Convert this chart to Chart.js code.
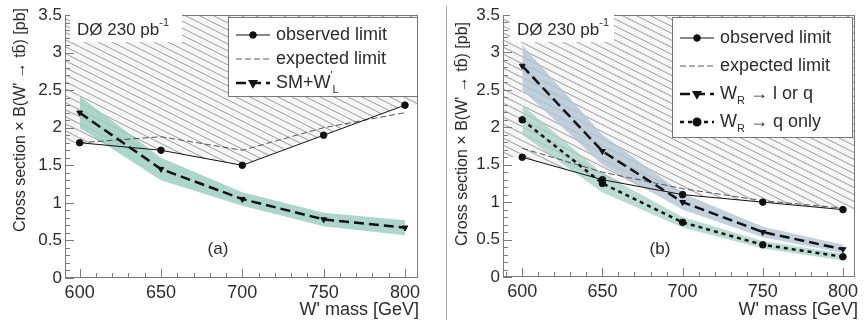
<!DOCTYPE html>
<html>
<head>
<meta charset="utf-8">
<script src="https://cdn.jsdelivr.net/npm/chart.js@4.4.1/dist/chart.umd.min.js"></script>
<style>
  body { margin: 0; background: #fff; width: 865px; height: 320px; overflow: hidden; position: relative; }
  canvas { position: absolute; top: 0; }
  #chartA { left: 0; }
  #chartB { left: 437px; }
  #sep { position: absolute; left: 446px; top: 6px; width: 1px; height: 314px; background: #a8a8a8; }
</style>
</head>
<body>
<canvas id="chartA" width="432" height="320"></canvas>
<canvas id="chartB" width="428" height="320"></canvas>
<div id="sep"></div>
<script>
// ---- data ----
const massPoints = [600, 650, 700, 750, 800];
const xTicks = [600, 650, 700, 750, 800];
const yTicks = [0, 0.5, 1, 1.5, 2, 2.5, 3, 3.5];

// panel (a): SM + W'_L
const observedA = [1.8, 1.7, 1.5, 1.9, 2.3];
const expectedA = [1.8, 1.88, 1.7, 2.0, 2.2];
const smwA      = [2.2, 1.45, 1.05, 0.78, 0.67];
const smwLowA   = [2.0, 1.3, 0.96, 0.69, 0.57];
const smwHighA  = [2.42, 1.6, 1.14, 0.87, 0.77];

// panel (b): W'_R
const observedB = [1.6, 1.3, 1.1, 1.0, 0.9];
const expectedB = [1.72, 1.4, 1.18, 1.02, 0.92];
const lqB       = [2.82, 1.68, 1.0, 0.6, 0.37];
const lqLowB    = [2.5, 1.5, 0.9, 0.53, 0.32];
const lqHighB   = [3.1, 1.9, 1.12, 0.67, 0.43];
const qB        = [2.1, 1.25, 0.73, 0.43, 0.27];
const qLowB     = [1.9, 1.13, 0.66, 0.38, 0.22];
const qHighB    = [2.3, 1.38, 0.8, 0.48, 0.31];

const TEXT = '#2b2b2b';
const FONT = '"Liberation Sans", Arial, sans-serif';

const pts = ys => massPoints.map((x, i) => ({ x, y: ys[i] }));

function hatchPattern() {
  const w = 14, h = 7;
  const c = document.createElement('canvas');
  c.width = w; c.height = h;
  const g = c.getContext('2d');
  g.fillStyle = '#f6f6f6'; g.fillRect(0, 0, w, h);
  g.strokeStyle = '#9a9a9a'; g.lineWidth = 1;
  g.beginPath();
  for (const dx of [-w, 0, w]) for (const dy of [-h, 0, h]) {
    g.moveTo(dx, dy); g.lineTo(dx + w, dy + h);
  }
  g.stroke();
  return g.createPattern(c, 'repeat');
}
const hatch = hatchPattern();

// text with sub/superscripts: parts = [{t, sub, sup}]
function richText(ctx, parts, x, y, size) {
  ctx.textBaseline = 'middle';
  ctx.textAlign = 'left';
  let cx = x;
  for (const p of parts) {
    const small = p.sub || p.sup;
    ctx.font = (small ? Math.round(size * 0.62) : size) + 'px ' + FONT;
    const dy = p.sub ? size * 0.38 : p.sup ? -size * 0.4 : 0;
    ctx.fillText(p.t, cx, y + dy);
    cx += ctx.measureText(p.t).width;
  }
  return cx;
}

const lineStyles = {
  observed: { color: '#111', width: 1, dash: [], marker: 'circle', rot: 0 },
  expected: { color: '#555', width: 1, dash: [6, 3], marker: null },
  thickDash: { color: '#111', width: 2.5, dash: [10, 5], marker: 'triangle', rot: 180 },
  shortDash: { color: '#111', width: 2.5, dash: [4, 4], marker: 'circle', rot: 0 }
};

function lineSet(ys, st, order) {
  return {
    data: pts(ys), borderColor: st.color, borderWidth: st.width, borderDash: st.dash,
    pointRadius: st.marker ? 3.3 : 0, pointStyle: st.marker || 'circle', rotation: st.rot || 0,
    pointBackgroundColor: st.color, pointBorderColor: st.color, pointBorderWidth: 1,
    fill: false, tension: 0, order
  };
}
function bandSets(lo, hi, color) {
  return [
    { data: pts(lo), borderWidth: 0, pointRadius: 0, fill: false, order: 9 },
    { data: pts(hi), borderWidth: 0, pointRadius: 0, fill: '-1', backgroundColor: color, order: 9 }
  ];
}

// frame, inner ticks, labels, legend
const decor = {
  id: 'decor',
  beforeDatasetsDraw(chart, args, opts) {
    // excluded region continues flat beyond the first/last mass point
    const ctx = chart.ctx, a = chart.chartArea;
    const xs = chart.scales.x, ys = chart.scales.y;
    const obs = opts.observed;
    const x0 = xs.getPixelForValue(massPoints[0]);
    const x1 = xs.getPixelForValue(massPoints[massPoints.length - 1]);
    ctx.save();
    ctx.fillStyle = hatch;
    ctx.fillRect(a.left, a.top, x0 - a.left, ys.getPixelForValue(obs[0]) - a.top);
    ctx.fillRect(x1, a.top, a.right - x1, ys.getPixelForValue(obs[obs.length - 1]) - a.top);
    ctx.restore();
  },
  afterDraw(chart, args, opts) {
    const ctx = chart.ctx, a = chart.chartArea;
    const xs = chart.scales.x, ys = chart.scales.y;
    const L0 = Math.round(a.left), T0 = Math.round(a.top);
    const R0 = Math.round(a.right), B0 = Math.round(a.bottom);
    ctx.save();
    ctx.fillStyle = '#7a7a7a';
    ctx.fillRect(L0, T0, R0 - L0, 1);
    ctx.fillRect(L0, B0 - 1, R0 - L0, 1);
    ctx.fillRect(L0, T0, 1, B0 - T0);
    ctx.fillRect(R0 - 1, T0, 1, B0 - T0);
    for (let v = 0; v <= 35; v++) {
      const py = Math.round(ys.getPixelForValue(v / 10));
      const len = v % 5 === 0 ? 9 : 5;
      ctx.fillRect(L0, py, len, 1);
    }
    for (let m = 590; m <= 800; m += 10) {
      const px = Math.round(xs.getPixelForValue(m));
      if (px < L0) continue;
      const len = m % 50 === 0 ? 9 : 5;
      ctx.fillRect(px, B0 - len, 1, len);
    }

    // DØ label
    ctx.fillStyle = '#fff';
    ctx.fillRect(opts.tag.x, opts.tag.y, opts.tag.w, 27);
    ctx.fillStyle = TEXT;
    richText(ctx, [{ t: 'DØ 230 pb' }, { t: '-1', sup: true }], opts.tag.x + 7, opts.tag.y + 15, 17);

    // panel letter
    ctx.font = '17px ' + FONT; ctx.textAlign = 'center'; ctx.textBaseline = 'middle';
    ctx.fillText(opts.letter.t, opts.letter.x, opts.letter.y);

    // legend
    const L = opts.legend;
    ctx.fillStyle = '#fff';
    ctx.fillRect(L.x, L.y, L.w, L.h);
    ctx.strokeStyle = '#777'; ctx.lineWidth = 1;
    ctx.strokeRect(L.x + 0.5, L.y + 0.5, L.w - 1, L.h - 1);
    L.entries.forEach((e, i) => {
      const y = L.y + L.first + i * L.step;
      const st = lineStyles[e.style];
      ctx.strokeStyle = st.color; ctx.lineWidth = st.width; ctx.setLineDash(st.dash);
      ctx.beginPath(); ctx.moveTo(L.x + 8, y); ctx.lineTo(L.x + 42, y); ctx.stroke();
      ctx.setLineDash([]);
      if (st.marker) {
        ctx.fillStyle = st.color; ctx.strokeStyle = st.color;
        Chart.helpers.drawPoint(ctx, { pointStyle: st.marker, rotation: st.rot, radius: 3.3, borderWidth: 1 }, L.x + 25, y);
      }
      ctx.fillStyle = TEXT;
      richText(ctx, e.parts, L.x + 48, y, 18);
    });

    // axis titles
    ctx.fillStyle = TEXT;
    ctx.font = '18px ' + FONT; ctx.textAlign = 'right'; ctx.textBaseline = 'middle';
    ctx.fillText('W\' mass [GeV]', opts.xTitle.x, opts.xTitle.y);
    ctx.save();
    ctx.translate(opts.yTitle.x, opts.yTitle.y);
    ctx.rotate(-Math.PI / 2);
    ctx.font = '16px ' + FONT;
    ctx.fillText('Cross section × B(W\' → tb\u0304) [pb]', 0, 0);
    ctx.restore();
    ctx.restore();
  }
};

function makePanel(id, datasets, geo) {
  return new Chart(document.getElementById(id), {
    type: 'line',
    data: { datasets },
    plugins: [decor],
    options: {
      responsive: false, animation: false, devicePixelRatio: 1,
      layout: { padding: { left: 0, right: geo.padRight, top: 15, bottom: 0 } },
      plugins: { legend: { display: false }, tooltip: { enabled: false }, decor: geo.decor },
      scales: {
        x: {
          type: 'linear', min: geo.xMin, max: geo.xMax,
          afterBuildTicks: s => { s.ticks = xTicks.map(v => ({ value: v })); },
          afterFit: s => { s.height = geo.xAxisH; },
          grid: { display: false, drawTicks: false }, border: { display: false },
          ticks: { color: TEXT, font: { size: 18, family: FONT }, padding: 4, maxRotation: 0 }
        },
        y: {
          min: 0, max: 3.5,
          afterBuildTicks: s => { s.ticks = yTicks.map(v => ({ value: v })); },
          afterFit: s => { s.width = geo.yAxisW; },
          grid: { display: false, drawTicks: false }, border: { display: false },
          ticks: { color: TEXT, font: { size: 17, family: FONT }, padding: 3, callback: v => String(v) }
        }
      }
    }
  });
}

makePanel('chartA', [
  { data: pts(observedA), borderWidth: 0, pointRadius: 0, fill: 'end', backgroundColor: hatch, order: 10 },
  ...bandSets(smwLowA, smwHighA, 'rgba(158,206,194,0.85)'),
  lineSet(expectedA, lineStyles.expected, 2),
  lineSet(observedA, lineStyles.observed, 1),
  lineSet(smwA, lineStyles.thickDash, 1)
], {
  xMin: 591, xMax: 808, padRight: 14, xAxisH: 42, yAxisW: 65,
  decor: {
    observed: observedA,
    tag: { x: 70, y: 15, w: 112 },
    letter: { t: '(a)', x: 218, y: 249 },
    legend: {
      x: 228, y: 17, w: 190, h: 80, first: 18, step: 24,
      entries: [
        { style: 'observed', parts: [{ t: 'observed limit' }] },
        { style: 'expected', parts: [{ t: 'expected limit' }] },
        { style: 'thickDash', parts: [{ t: 'SM+W' }, { t: '\'', sup: true }, { t: 'L', sub: true }] }
      ]
    },
    xTitle: { x: 419, y: 310 },
    yTitle: { x: 21, y: 8 }
  }
});

makePanel('chartB', [
  { data: pts(observedB), borderWidth: 0, pointRadius: 0, fill: 'end', backgroundColor: hatch, order: 10 },
  ...bandSets(lqLowB, lqHighB, 'rgba(180,196,214,0.8)'),
  ...bandSets(qLowB, qHighB, 'rgba(164,208,196,0.75)'),
  lineSet(expectedB, lineStyles.expected, 2),
  lineSet(observedB, lineStyles.observed, 1),
  lineSet(lqB, lineStyles.thickDash, 1),
  lineSet(qB, lineStyles.shortDash, 1)
], {
  xMin: 588, xMax: 807.5, padRight: 10, xAxisH: 43, yAxisW: 66,
  decor: {
    observed: observedB,
    tag: { x: 73, y: 15, w: 104 },
    letter: { t: '(b)', x: 223, y: 249 },
    legend: {
      x: 235, y: 17, w: 181, h: 121, first: 21, step: 28,
      entries: [
        { style: 'observed', parts: [{ t: 'observed limit' }] },
        { style: 'expected', parts: [{ t: 'expected limit' }] },
        { style: 'thickDash', parts: [{ t: 'W' }, { t: 'R', sub: true }, { t: ' → l or q' }] },
        { style: 'shortDash', parts: [{ t: 'W' }, { t: 'R', sub: true }, { t: ' → q only' }] }
      ]
    },
    xTitle: { x: 421, y: 310 },
    yTitle: { x: 26, y: 22 }
  }
});
</script>
</body>
</html>
